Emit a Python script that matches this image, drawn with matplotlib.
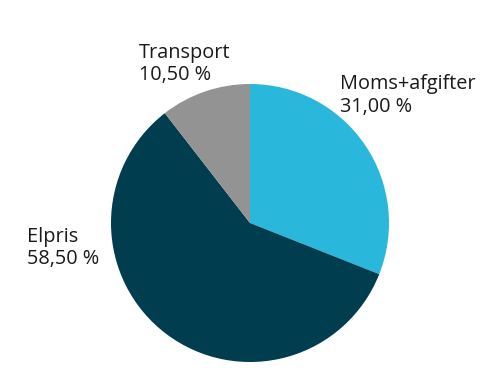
import matplotlib
matplotlib.use("Agg")
import matplotlib.pyplot as plt

categories = ["Moms+afgifter", "Elpris", "Transport"]
values = [31.00, 58.50, 10.50]
value_labels = ["31,00 %", "58,50 %", "10,50 %"]
colors = ["#29B8DB", "#003D4F", "#939393"]

W, H = 500, 378
fig = plt.figure(figsize=(5, 3.78), dpi=100)
ax = fig.add_axes([0, 0, 1, 1])

ax.pie(values, colors=colors, startangle=90, counterclock=False,
       center=(250, H - 223), radius=139, frame=True,
       wedgeprops=dict(linewidth=0))
ax.set_xlim(0, W)
ax.set_ylim(0, H)
ax.set_aspect("equal")
ax.axis("off")

# label positions in pixels: (left x, baseline of first line)
label_pos = {"Moms+afgifter": (340, 89.5), "Elpris": (27, 241.7), "Transport": (139, 57.7)}
line_gap = 22.5
font = ["Open Sans", "DejaVu Sans"]
for cat, vl in zip(categories, value_labels):
    x, yb = label_pos[cat]
    ax.text(x, H - yb, cat, ha="left", va="baseline", fontsize=14.3,
            family=font, color="#1a1a1a")
    ax.text(x, H - yb - line_gap, vl, ha="left", va="baseline", fontsize=14.3,
            family=font, color="#1a1a1a")

fig.savefig("out.png", dpi=100)
